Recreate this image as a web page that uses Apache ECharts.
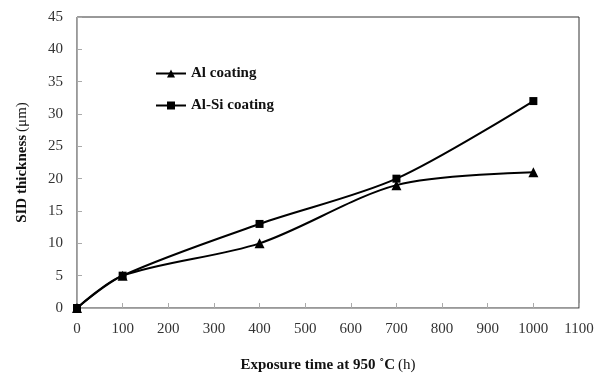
<!DOCTYPE html>
<html>
<head>
<meta charset="utf-8">
<script src="https://cdn.jsdelivr.net/npm/echarts@6/dist/echarts.min.js"></script>
<style>
  html, body { margin: 0; padding: 0; background: #fff; }
  #chart { width: 605px; height: 378px; }
</style>
</head>
<body>
<div id="chart"></div>
<script>
// exposure time (h)
const hours = [0, 100, 400, 700, 1000];
// SID thickness (um)
const alCoating = [0, 5, 10, 19, 21];
const alSiCoating = [0, 5, 13, 20, 32];

const seriesNames = ['Al coating', 'Al-Si coating'];

const font = '"Liberation Serif", "DejaVu Serif", serif';

function pairs(ys) {
  return hours.map((h, i) => [h, ys[i]]);
}

const chart = echarts.init(document.getElementById('chart'));

chart.setOption({
  backgroundColor: '#fff',
  animation: false,
  textStyle: { fontFamily: font },
  legend: {
    orient: 'vertical',
    left: 150,
    top: 61,
    itemGap: 17,
    itemWidth: 30,
    itemHeight: 10,
    textStyle: { fontFamily: font, fontSize: 15, fontWeight: 'bold', color: '#111' },
    data: seriesNames
  },
  grid: {
    left: 77,
    right: 26,
    top: 17,
    bottom: 70,
    show: true,
    borderColor: '#333',
    borderWidth: 1
  },
  xAxis: {
    type: 'value',
    min: 0,
    max: 1100,
    interval: 100,
    name: '{b|Exposure time at 950 ˚C} {n|(h)}',
    nameLocation: 'middle',
    nameGap: 50,
    nameTextStyle: {
      rich: {
        b: { fontFamily: font, fontSize: 15, fontWeight: 'bold', color: '#111' },
        n: { fontFamily: font, fontSize: 15, color: '#111' }
      }
    },
    axisLine: { lineStyle: { color: '#aaa' } },
    axisTick: { inside: true, length: 5, lineStyle: { color: '#aaa' } },
    axisLabel: { fontFamily: font, fontSize: 15, color: '#333', margin: 14, formatter: v => String(v) },
    splitLine: { show: false }
  },
  yAxis: {
    type: 'value',
    min: 0,
    max: 45,
    interval: 5,
    name: '{b|SID thickness} {n|(μm)}',
    nameLocation: 'middle',
    nameGap: 47,
    nameTextStyle: {
      rich: {
        b: { fontFamily: font, fontSize: 15, fontWeight: 'bold', color: '#111' },
        n: { fontFamily: font, fontSize: 15, color: '#111' }
      }
    },
    axisLine: { show: true, lineStyle: { color: '#aaa' } },
    axisTick: { show: true, inside: true, length: 5, lineStyle: { color: '#aaa' } },
    axisLabel: { fontFamily: font, fontSize: 15, color: '#333', margin: 14 },
    splitLine: { show: false }
  },
  series: [
    {
      name: seriesNames[0],
      type: 'line',
      smooth: 0.3,
      data: pairs(alCoating),
      symbol: 'triangle',
      symbolSize: 10,
      itemStyle: { color: '#000' },
      lineStyle: { color: '#000', width: 2 }
    },
    {
      name: seriesNames[1],
      type: 'line',
      smooth: 0.3,
      data: pairs(alSiCoating),
      symbol: 'rect',
      symbolSize: 8,
      itemStyle: { color: '#000' },
      lineStyle: { color: '#000', width: 2 }
    }
  ]
});
</script>
</body>
</html>
